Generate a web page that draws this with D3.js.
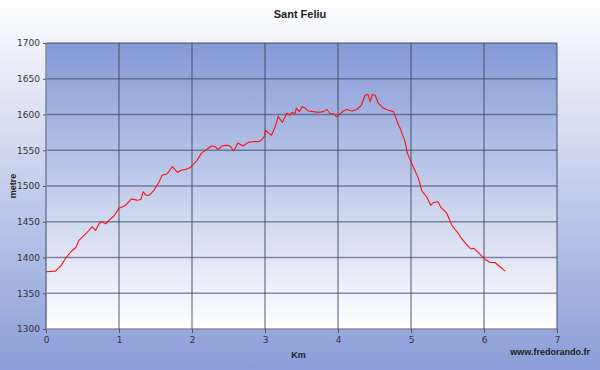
<!DOCTYPE html>
<html>
<head>
<meta charset="utf-8">
<script src="https://cdn.jsdelivr.net/npm/d3@7"></script>
<style>
  body { margin: 0; padding: 0; }
  svg { display: block; font-family: "Liberation Sans", Arial, sans-serif; }
</style>
</head>
<body>
<div id="chart"></div>
<script>
// profile data: distance (km) and altitude (m)
var distKm = [0, 0.13, 0.20, 0.27, 0.34, 0.41, 0.45, 0.52, 0.59, 0.63, 0.68, 0.73, 0.77, 0.82, 0.86, 0.93,
    1.00, 1.05, 1.09, 1.17, 1.25, 1.30, 1.33, 1.37, 1.41, 1.48, 1.55, 1.59, 1.66, 1.73, 1.80, 1.85, 1.91, 1.98,
    2.07, 2.13, 2.20, 2.27, 2.32, 2.36, 2.41, 2.48, 2.52, 2.57, 2.63, 2.70, 2.77, 2.84, 2.91, 2.95, 2.99,
    3.01, 3.05, 3.09, 3.14, 3.18, 3.24, 3.30, 3.34, 3.37, 3.41, 3.43, 3.47, 3.51, 3.55, 3.59, 3.66, 3.73, 3.80, 3.85, 3.89, 3.94, 3.98,
    4.03, 4.07, 4.12, 4.19, 4.26, 4.32, 4.37, 4.41, 4.44, 4.47, 4.51, 4.55, 4.62, 4.69, 4.76, 4.83, 4.85, 4.92, 4.95,
    5.03, 5.10, 5.15, 5.22, 5.27, 5.31, 5.37, 5.41, 5.49, 5.56, 5.63, 5.69, 5.76, 5.82, 5.86, 5.95,
    6.01, 6.08, 6.15, 6.22, 6.29];
var altitude = [1380, 1381, 1388, 1399, 1408, 1414, 1424, 1431, 1438, 1443, 1438, 1448, 1450, 1447, 1452, 1458,
    1469, 1471, 1473, 1482, 1480, 1481, 1492, 1487, 1487, 1494, 1506, 1515, 1517, 1527, 1519, 1522, 1523, 1526,
    1536, 1546, 1551, 1556, 1555, 1551, 1556, 1557, 1556, 1549, 1560, 1556, 1561, 1562, 1562, 1564, 1569,
    1578, 1574, 1571, 1583, 1597, 1589, 1602, 1599, 1603, 1601, 1609, 1604, 1611, 1609, 1605, 1604, 1603, 1604, 1607, 1601, 1601, 1597,
    1601, 1605, 1607, 1605, 1607, 1613, 1627, 1628, 1618, 1628, 1627, 1616, 1609, 1606, 1604, 1585, 1581, 1562, 1546,
    1527, 1511, 1493, 1484, 1473, 1477, 1478, 1470, 1462, 1445, 1436, 1427, 1418, 1412, 1413, 1404,
    1398, 1393, 1393, 1387, 1381];

var xTicks = [0, 1, 2, 3, 4, 5, 6, 7];
var yTicks = [1300, 1350, 1400, 1450, 1500, 1550, 1600, 1650, 1700];

var W = 600, H = 370;
var m = { top: 43, left: 46, right: 43, bottom: 41 };
var iw = W - m.left - m.right;
var ih = H - m.top - m.bottom;

var svg = d3.select('#chart').append('svg')
    .attr('width', W)
    .attr('height', H);

var defs = svg.append('defs');
var bgGrad = defs.append('linearGradient').attr('id', 'bgGrad')
    .attr('x1', 0).attr('y1', 0).attr('x2', 0).attr('y2', 1);
bgGrad.append('stop').attr('offset', '0%').attr('stop-color', '#ffffff');
bgGrad.append('stop').attr('offset', '100%').attr('stop-color', '#8a9dd8');

var plotGrad = defs.append('linearGradient').attr('id', 'plotGrad')
    .attr('x1', 0).attr('y1', 0).attr('x2', 0).attr('y2', 1);
plotGrad.append('stop').attr('offset', '0%').attr('stop-color', '#8499d6');
plotGrad.append('stop').attr('offset', '100%').attr('stop-color', '#ffffff');

svg.append('rect').attr('width', W).attr('height', H).attr('fill', 'url(#bgGrad)');

var x = d3.scaleLinear().domain([0, 7]).range([0, iw]);
var y = d3.scaleLinear().domain([1300, 1700]).range([ih, 0]);

var g = svg.append('g').attr('transform', 'translate(' + m.left + ',' + m.top + ')');

g.append('rect').attr('width', iw).attr('height', ih).attr('fill', 'url(#plotGrad)');

// grid
g.selectAll('.hgrid').data(yTicks).enter().append('line')
    .attr('x1', 0).attr('x2', iw)
    .attr('y1', function (d) { return y(d); }).attr('y2', function (d) { return y(d); })
    .attr('stroke', '#3c4660').attr('stroke-opacity', 0.6).attr('stroke-width', 1.5);
g.selectAll('.vgrid').data(xTicks).enter().append('line')
    .attr('y1', 0).attr('y2', ih)
    .attr('x1', function (d) { return x(d); }).attr('x2', function (d) { return x(d); })
    .attr('stroke', '#3c4660').attr('stroke-opacity', 0.6).attr('stroke-width', 1.5);

// axes
var xAxis = g.append('g').attr('transform', 'translate(0,' + ih + ')')
    .call(d3.axisBottom(x).tickValues(xTicks).tickSize(4).tickPadding(4).tickFormat(d3.format('d')));
var yAxis = g.append('g')
    .call(d3.axisLeft(y).tickValues(yTicks).tickSize(3).tickPadding(3).tickFormat(d3.format('d')));
[xAxis, yAxis].forEach(function (a) {
    a.select('.domain').attr('stroke', '#8890a8');
    a.selectAll('.tick line').attr('stroke', '#555');
    a.selectAll('text').attr('fill', '#333').attr('font-size', 9)
        .attr('font-family', '"DejaVu Sans", Verdana, sans-serif');
});

// profile line
var line = d3.line()
    .x(function (d, i) { return x(distKm[i]); })
    .y(function (d) { return y(d); });
g.append('path').datum(altitude)
    .attr('d', line)
    .attr('fill', 'none')
    .attr('stroke', '#ff1010')
    .attr('stroke-width', 1.1)
    .attr('stroke-linejoin', 'round');

// labels
svg.append('text').attr('x', 300).attr('y', 18).attr('text-anchor', 'middle')
    .attr('font-size', 11).attr('font-weight', 'bold').attr('fill', '#222').text('Sant Feliu');
svg.append('text').attr('transform', 'translate(16,' + (m.top + ih / 2) + ') rotate(-90)')
    .attr('text-anchor', 'middle').attr('font-size', 9).attr('font-weight', 'bold').attr('fill', '#222').text('metre');
svg.append('text').attr('x', m.left + iw / 2 - 3).attr('y', 358).attr('text-anchor', 'middle')
    .attr('font-size', 9).attr('font-weight', 'bold').attr('fill', '#222').text('Km');
svg.append('text').attr('x', 590).attr('y', 355).attr('text-anchor', 'end')
    .attr('font-size', 9).attr('font-weight', 'bold').attr('fill', '#222').text('www.fredorando.fr');
</script>
</body>
</html>
